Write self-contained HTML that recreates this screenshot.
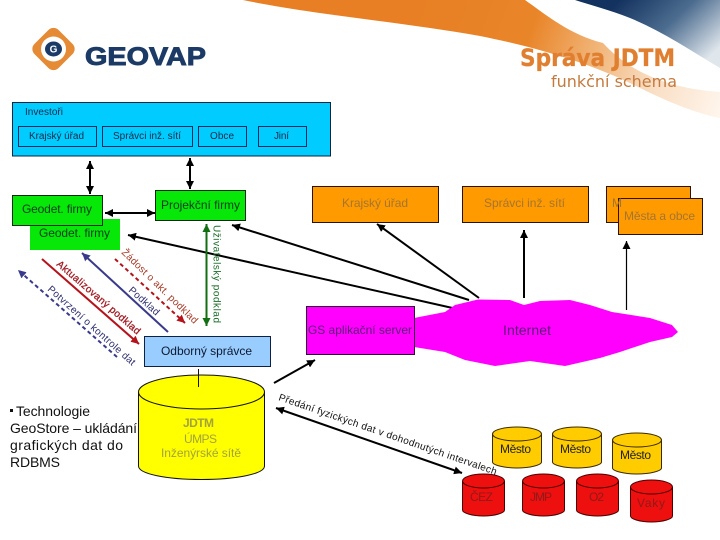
<!DOCTYPE html>
<html><head><meta charset="utf-8"><style>
html,body{margin:0;padding:0;background:#fff}
svg{display:block}
text{font-family:"Liberation Sans",Arial,sans-serif}
</style></head><body>
<svg width="720" height="540" viewBox="0 0 720 540" xmlns="http://www.w3.org/2000/svg">
<defs>
<linearGradient id="og" x1="420" y1="0" x2="720" y2="110" gradientUnits="userSpaceOnUse"><stop offset="0" stop-color="#e87f24"/><stop offset=".36" stop-color="#e98529"/><stop offset=".55" stop-color="#f0b070"/><stop offset=".76" stop-color="#f8dcc0"/><stop offset="1" stop-color="#fff5ec"/></linearGradient>
<linearGradient id="bg" x1="620" y1="0" x2="690" y2="75" gradientUnits="userSpaceOnUse"><stop offset="0" stop-color="#14325f"/><stop offset=".5" stop-color="#4c6c8f"/><stop offset="1" stop-color="#dfe6ec"/></linearGradient>
<marker id="k" markerUnits="userSpaceOnUse" markerWidth="10" markerHeight="8" refX="8" refY="4" orient="auto-start-reverse"><path d="M0 0L8 4L0 8z" fill="#000"/></marker>
<marker id="g" markerUnits="userSpaceOnUse" markerWidth="10" markerHeight="8" refX="8" refY="4" orient="auto-start-reverse"><path d="M0 0L8 4L0 8z" fill="#126e12"/></marker>
<marker id="r" markerUnits="userSpaceOnUse" markerWidth="10" markerHeight="8" refX="8" refY="4" orient="auto-start-reverse"><path d="M0 0L8 4L0 8z" fill="#b5121b"/></marker>
<marker id="b" markerUnits="userSpaceOnUse" markerWidth="10" markerHeight="8" refX="8" refY="4" orient="auto-start-reverse"><path d="M0 0L8 4L0 8z" fill="#3a3a8c"/></marker>
</defs>

<!-- header -->
<path d="M243 0L525 0C545 14 570 35 603 43C625 67 660 88 720 92L720 118C690 112 660 98 630 83C590 64 540 48 480 36C400 22 310 14 243 0Z" fill="url(#og)"/>
<path d="M575 0L720 0L720 68C690 50 660 30 630 18C610 10 590 5 575 0Z" fill="url(#bg)"/>
<text x="520" y="66" font-size="24" font-weight="bold" fill="#e07f30" stroke="#e07f30" stroke-width=".3" textLength="155" lengthAdjust="spacingAndGlyphs" style="font-family:'DejaVu Sans',sans-serif">Správa JDTM</text>
<text x="551" y="87" font-size="16" fill="#c47a3e" textLength="126" lengthAdjust="spacingAndGlyphs" style="font-family:'DejaVu Sans',sans-serif">funkční schema</text>

<!-- logo -->
<rect x="36.500" y="32" width="34" height="34" rx="7" transform="rotate(45 53.500 49)" fill="#e58a35"/>
<circle cx="53.500" cy="49" r="12.500" fill="#fff"/>
<ellipse cx="53.500" cy="49" rx="8.500" ry="7.500" fill="#1c3a66"/>
<text x="53.500" y="52.500" font-size="10" font-weight="bold" fill="#fff" text-anchor="middle">G</text>
<text x="85" y="65" font-size="25" font-weight="bold" fill="#1c3a66" stroke="#1c3a66" stroke-width=".9" textLength="121" lengthAdjust="spacingAndGlyphs">GEOVAP</text>

<!-- investors -->
<rect x="12.500" y="102.500" width="318" height="53.500" fill="#00ccff" stroke="#0b2440"/>
<g fill="none" stroke="#14285a" stroke-width="1">
<rect x="18.500" y="126.500" width="78" height="20"/>
<rect x="102.500" y="126.500" width="90" height="20"/>
<rect x="198.500" y="126.500" width="48" height="20"/>
<rect x="258.500" y="126.500" width="48" height="20"/>
</g>
<g font-size="10" fill="#1a2a4a" lengthAdjust="spacing">
<text x="25" y="115" textLength="38">Investoři</text>
<text x="29" y="139" textLength="55">Krajský úřad</text>
<text x="113" y="139" textLength="68">Správci inž. sítí</text>
<text x="210" y="139" textLength="24">Obce</text>
<text x="274" y="139" textLength="15">Jiní</text>
</g>

<!-- arrows top -->
<g stroke="#000" stroke-width="2" fill="none">
<line x1="90" y1="161" x2="90" y2="194" marker-start="url(#k)" marker-end="url(#k)"/>
<line x1="190" y1="158" x2="190" y2="189" marker-start="url(#k)" marker-end="url(#k)"/>
<line x1="105" y1="213" x2="155" y2="213" marker-start="url(#k)" marker-end="url(#k)"/>
<line x1="457" y1="309" x2="128" y2="235" marker-end="url(#k)"/>
<line x1="469" y1="300" x2="232" y2="225" marker-end="url(#k)"/>
<line x1="479" y1="298" x2="377" y2="224" marker-end="url(#k)"/>
<line x1="524" y1="298" x2="524" y2="230" marker-end="url(#k)"/>
<line x1="626.500" y1="310" x2="626.500" y2="241" stroke-width="1.200" marker-end="url(#k)"/>
<line x1="274" y1="383" x2="315" y2="360" marker-end="url(#k)"/>
<line x1="276" y1="408" x2="462" y2="473" marker-start="url(#k)" marker-end="url(#k)"/>
</g>

<!-- green boxes -->
<rect x="30" y="219" width="90" height="31" fill="#08e808"/>
<rect x="12.500" y="195.500" width="90" height="30" fill="#08e808" stroke="#0a2a0a"/>
<rect x="155.500" y="190.500" width="90" height="30" fill="#08e808" stroke="#0a2a0a"/>
<g font-size="12" fill="#0d3d1d">
<text x="22" y="213" textLength="70">Geodet. firmy</text>
<text x="39" y="237" textLength="71">Geodet. firmy</text>
<text x="161" y="209" textLength="79">Projekční firmy</text>
</g>

<!-- orange boxes -->
<g stroke="#2a1400" fill="#ff9a00">
<rect x="312.500" y="186.500" width="126" height="36"/>
<rect x="462.500" y="186.500" width="126" height="36"/>
<rect x="606.500" y="186.500" width="84" height="36"/>
<rect x="618.500" y="198.500" width="84" height="36"/>
</g>
<g font-size="12" fill="#a5752f">
<text x="342" y="207" textLength="66">Krajský úřad</text>
<text x="484" y="207" textLength="81">Správci inž. sítí</text>
<text x="612" y="207">M</text>
<text x="624" y="220" textLength="71">Města a obce</text>
</g>

<!-- cloud and server -->
<path d="M414 318L445 312L455 305L478 299.500L510 300L524 305L540 301L570 300L590 305L612 312L650 318L672 325L678 332L672 337L650 342L620 352L600 358L565 366L530 361L495 366L465 360L445 352L414 347Z" fill="#ff00ff"/>
<rect x="306.500" y="306.500" width="108" height="48" fill="#ff00ff" stroke="#30103a"/>
<text x="308" y="334" font-size="12" fill="#5e1a7a" textLength="104">GS aplikační server</text>
<text x="503" y="335" font-size="14" fill="#5e1a7a" textLength="48">Internet</text>

<!-- odborný -->
<rect x="144.500" y="336.500" width="126" height="30" fill="#99ccff" stroke="#102040"/>
<text x="161" y="355" font-size="12" fill="#0d1a30" textLength="91">Odborný správce</text>

<!-- diagonal arrows -->
<g fill="none" stroke-width="2">
<line x1="206.500" y1="224" x2="206.500" y2="326" stroke="#126e12" marker-start="url(#g)" marker-end="url(#g)"/>
<line x1="115" y1="259" x2="185" y2="323" stroke="#b5121b" stroke-dasharray="4 3" marker-end="url(#r)"/>
<line x1="42" y1="259" x2="139" y2="344" stroke="#b5121b" marker-end="url(#r)"/>
<line x1="168" y1="332" x2="82" y2="253" stroke="#3a3a8c" marker-end="url(#b)"/>
<line x1="117" y1="357" x2="18" y2="270" stroke="#3a3a8c" stroke-dasharray="4 3" marker-end="url(#b)"/>
</g>
<g font-size="10">
<text transform="translate(213.500 225) rotate(90)" fill="#1d6e2a" textLength="98">Uživatelský podklad</text>
<text transform="translate(121 253) rotate(44.200)" fill="#a83a28" textLength="102">Žádost o akt. podklad</text>
<text transform="translate(56 265) rotate(40.800)" fill="#a01c24" stroke="#a01c24" stroke-width=".3" textLength="107">Aktualizovaný podklad</text>
<text transform="translate(128 291) rotate(41.600)" fill="#2e2e70" textLength="37.500">Podklad</text>
<text transform="translate(47 290) rotate(41.800)" fill="#2e2e70" textLength="114">Potvrzení o kontrole dat</text>
<text transform="translate(278 400) rotate(19)" fill="#111" textLength="230">Předání fyzických dat v dohodnutých intervalech</text>
</g>

<!-- JDTM cylinder -->
<path d="M138.500 392A63 17 0 0 1 264.500 392V466C264.500 474 236 479.500 201.500 479.500C167 479.500 138.500 474 138.500 466Z" fill="#ffff00" stroke="#111"/>
<path d="M138.500 392A63 17 0 0 0 264.500 392" fill="none" stroke="#111"/>
<line x1="198.500" y1="369" x2="198.500" y2="387" stroke="#111"/>
<g fill="#a3a33a" font-size="12">
<text x="183" y="427" font-weight="bold" textLength="31">JDTM</text>
<text x="184" y="443" textLength="33">ÚMPS</text>
<text x="161" y="457" textLength="80">Inženýrské sítě</text>
</g>

<!-- left text -->
<g font-size="14" fill="#111">
<rect x="10" y="409" width="3" height="3" fill="#111"/>
<text x="16" y="416" textLength="74">Technologie</text>
<text x="10" y="433" textLength="127">GeoStore – ukládání</text>
<text x="10" y="450" textLength="113">grafických dat do</text>
<text x="10" y="467" textLength="50">RDBMS</text>
</g>

<!-- small cylinders -->
<g stroke="#3a2a00" fill="#ffcc00">
<path d="M492.500 434A24.500 7 0 0 1 541.500 434V462C541.500 465 530 468 517 468C504 468 492.500 465 492.500 462Z"/>
<path d="M492.500 434A24.500 7 0 0 0 541.500 434" fill="none"/>
<path d="M552.500 434A24.500 7 0 0 1 601.500 434V462C601.500 465 590 468 577 468C564 468 552.500 465 552.500 462Z"/>
<path d="M552.500 434A24.500 7 0 0 0 601.500 434" fill="none"/>
<path d="M612.500 440A24.500 7 0 0 1 661.500 440V468C661.500 471 650 474 637 474C624 474 612.500 471 612.500 468Z"/>
<path d="M612.500 440A24.500 7 0 0 0 661.500 440" fill="none"/>
</g>
<g stroke="#4a0000" fill="#ee0f0f">
<path d="M462.500 481A21 7 0 0 1 504.500 481V510C504.500 513 495 516 483.500 516C472 516 462.500 513 462.500 510Z"/>
<path d="M462.500 481A21 7 0 0 0 504.500 481" fill="none"/>
<path d="M522.500 481A21 7 0 0 1 564.500 481V510C564.500 513 555 516 543.500 516C532 516 522.500 513 522.500 510Z"/>
<path d="M522.500 481A21 7 0 0 0 564.500 481" fill="none"/>
<path d="M576.500 481A21 7 0 0 1 618.500 481V510C618.500 513 609 516 597.500 516C586 516 576.500 513 576.500 510Z"/>
<path d="M576.500 481A21 7 0 0 0 618.500 481" fill="none"/>
<path d="M630.500 487A21 7 0 0 1 672.500 487V516C672.500 519 663 522 651.500 522C640 522 630.500 519 630.500 516Z"/>
<path d="M630.500 487A21 7 0 0 0 672.500 487" fill="none"/>
</g>
<g font-size="12" fill="#222">
<text x="500" y="453" textLength="31">Město</text>
<text x="560" y="453" textLength="31">Město</text>
<text x="620" y="459" textLength="31">Město</text>
</g>
<g font-size="12" fill="#8f1a1a">
<text x="470" y="501" textLength="23">ČEZ</text>
<text x="530" y="501" textLength="22">JMP</text>
<text x="589" y="501" textLength="15">O2</text>
<text x="637" y="507" textLength="28">Vaky</text>
</g>
</svg>
</body></html>
